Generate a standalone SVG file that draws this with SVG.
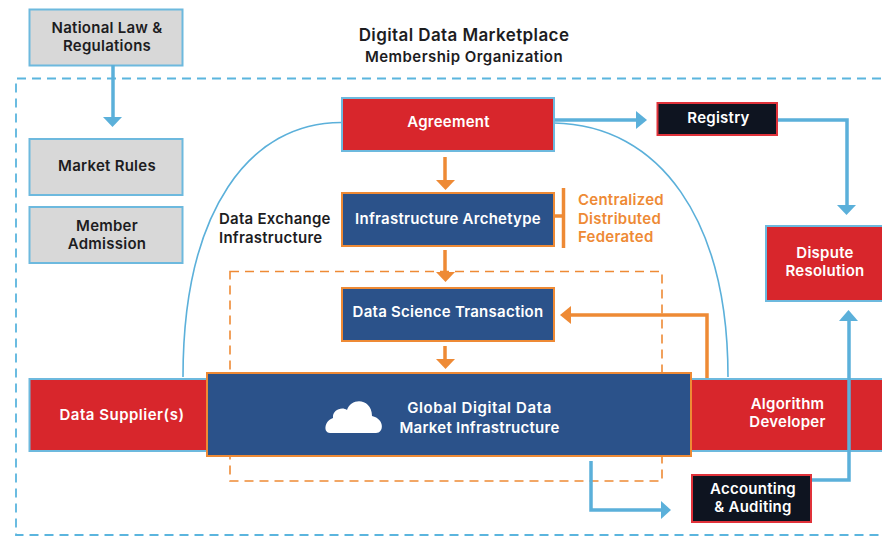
<svg xmlns="http://www.w3.org/2000/svg" width="882" height="536" viewBox="0 0 882 536">
<style>
text{font-family:"Inter","Noto Sans","Liberation Sans",sans-serif;font-weight:600;font-size:15px;text-anchor:middle;letter-spacing:.25px}
.d{fill:#1d1d1f}.w{fill:#fff}.o{fill:#ee8a35}
.g{fill:#d8d8d8;stroke:#6db9de;stroke-width:2}
.r{fill:#d8262c;stroke:#6db9de;stroke-width:2}
.rf{fill:#d8262c}
.e{fill:none;stroke:#6db9de;stroke-width:2}
.b{fill:#2b528a;stroke:#ee8a35;stroke-width:2}
.k{fill:#0e1420;stroke:#e0323a;stroke-width:2}
.bl{fill:none;stroke:#5bb0da;stroke-width:3.5}
.or{fill:none;stroke:#ee8a35;stroke-width:3.5}
.thin{fill:none;stroke:#5bb0da;stroke-width:1.6}
</style>
<g id="frames">
<path d="M881 78.500H16V535H881" fill="none" stroke="#5bb5de" stroke-width="1.800" stroke-dasharray="9 6"/>
<rect x="230" y="271.500" width="432" height="209.500" fill="none" stroke="#ee8a35" stroke-width="1.600" stroke-dasharray="9 6"/>
</g>
<g id="title"><text x="464" y="41" class="d" style="font-size:17px;letter-spacing:.4px">Digital Data Marketplace</text><text x="464" y="62" class="d" style="font-size:15px;letter-spacing:.45px">Membership Organization</text></g>
<g id="national-law"><rect class="g" x="29.500" y="9.500" width="153" height="56"/><text x="107" y="33" class="d">National Law &amp;</text><text x="107" y="51" class="d">Regulations</text></g>
<g id="market-rules"><rect class="g" x="29.500" y="139" width="153" height="56"/><text x="107" y="171" class="d">Market Rules</text></g>
<g id="member-admission"><rect class="g" x="29.500" y="207" width="153" height="56"/><text x="107" y="231" class="d">Member</text><text x="107" y="249" class="d">Admission</text></g>
<g id="data-exchange-label"><text x="219" y="224" class="d" style="text-anchor:start">Data Exchange</text><text x="219" y="243" class="d" style="text-anchor:start">Infrastructure</text></g>
<g id="connectors">
<path class="thin" d="M342 122.500C250 122 183 210 183 377"/>
<path class="thin" d="M554 123C660 125 728 220 728 377"/>
<path class="bl" d="M113 65V118"/><path fill="#5bb0da" d="M103 117H122L112.500 127Z"/>
<path class="bl" d="M554 120H638"/><path fill="#5bb0da" d="M636 111L647 120L636 129Z"/>
<path class="bl" d="M777 120H847V206"/><path fill="#5bb0da" d="M837 205H856L846.500 215Z"/>
<path class="bl" d="M591 461V510H662"/><path fill="#5bb0da" d="M661 501L671 510L661 519Z"/>
<path class="or" d="M445 157V181"/><path fill="#ee8a35" d="M436 180H455L445.500 190Z"/>
<path class="or" d="M445 250V273"/><path fill="#ee8a35" d="M436 272H455L445.500 282Z"/>
<path class="or" d="M445 346V360"/><path fill="#ee8a35" d="M436 359H455L445.500 369Z"/>
<path class="or" d="M707 379V315H570"/><path fill="#ee8a35" d="M571 306L560 315L571 324Z"/>
<path class="or" d="M554 216H564"/><path class="or" d="M563.500 188V248"/>
</g>
<g id="agreement"><rect class="r" x="342" y="98" width="212" height="53"/><text x="448.500" y="127" class="w">Agreement</text></g>
<g id="registry"><rect class="k" x="657.500" y="103" width="119.500" height="32"/><text x="718.500" y="123" class="w">Registry</text></g>
<g id="infrastructure-archetype"><rect class="b" x="342" y="193" width="212" height="53"/><text x="448" y="224" class="w">Infrastructure Archetype</text></g>
<g id="archetype-options"><text x="578" y="205" class="o" style="text-anchor:start">Centralized</text><text x="578" y="224" class="o" style="text-anchor:start">Distributed</text><text x="578" y="242" class="o" style="text-anchor:start">Federated</text></g>
<g id="dispute-resolution"><rect class="rf" x="766" y="226" width="116" height="75"/><path class="e" d="M882 226H766V301H882"/><text x="825" y="258" class="w">Dispute</text><text x="825" y="276" class="w">Resolution</text></g>
<g id="data-science-transaction"><rect class="b" x="342" y="288" width="212" height="53"/><text x="448" y="317" class="w">Data Science Transaction</text></g>
<g id="data-supplier"><rect class="r" x="29.500" y="379" width="180" height="72"/><text x="122" y="420" class="w" style="letter-spacing:.5px">Data Supplier(s)</text></g>
<g id="algorithm-developer"><rect class="rf" x="688" y="379" width="194" height="72"/><path class="e" d="M688 379H882M688 451H882"/><text x="787.500" y="409" class="w">Algorithm</text><text x="787.500" y="427" class="w">Developer</text></g>
<g id="connector-accounting"><path class="bl" d="M811 480H849V320"/><path fill="#5bb0da" d="M839 321H858L848.500 310Z"/></g>
<g id="global-infrastructure"><rect class="b" x="207" y="373" width="484" height="83"/>
<path fill="#fff" d="M330 433C323 433 324 421 333 418C332 410 342 406 347 410C351 397 372 398 372 416C385 419 384 433 376 433Z"/>
<text x="479.500" y="413" class="w" style="letter-spacing:.6px">Global Digital Data</text><text x="479.500" y="433" class="w">Market Infrastructure</text></g>
<g id="accounting-auditing"><rect class="k" x="692" y="475" width="119" height="47"/><text x="753" y="494" class="w">Accounting</text><text x="753" y="512" class="w">&amp; Auditing</text></g>
</svg>
